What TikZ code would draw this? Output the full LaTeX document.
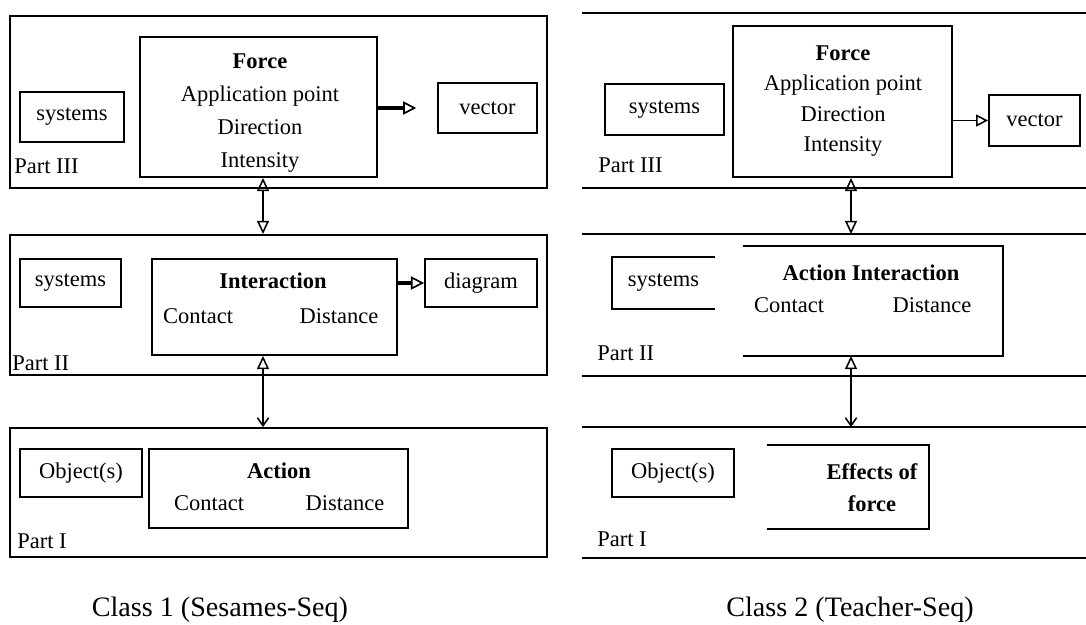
\documentclass[tikz,border=0pt]{standalone}
\usepackage{fontspec}
\setmainfont{Liberation Serif}
\usetikzlibrary{arrows.meta}

\begin{document}
\begin{tikzpicture}[x=0.025cm, y=-0.025cm,
    panel/.style={rectangle, inner sep=0pt, line width=1.3pt},
    itembox/.style={draw, rectangle, inner sep=0pt, line width=1.3pt},
    txt/.style={inner sep=0pt, font=\fontsize{16}{20}\selectfont},
    hd/.style={inner sep=0pt, font=\fontsize{16}{20}\selectfont\bfseries},
    partlbl/.style={txt, anchor=west},
    caption/.style={inner sep=0pt, font=\fontsize{20}{24}\selectfont},
    edge/.style={line width=1.3pt},
    thickarrow/.style={-{Triangle[open, length=0.33cm, width=0.33cm, line width=1.2pt]}, line width=2.8pt},
    thinarrow/.style={-{Triangle[open, length=0.3cm, width=0.3cm, line width=1.1pt]}, line width=1pt},
    bothopen/.style={{Triangle[open, length=0.33cm, width=0.3cm, line width=1.1pt]}-{Triangle[open, length=0.33cm, width=0.3cm, line width=1.1pt]}, line width=1pt},
    openbarb/.style={{Triangle[open, length=0.33cm, width=0.3cm, line width=1.1pt]}-{Straight Barb[length=0.2cm, width=0.28cm, line width=1.1pt]}, line width=1pt}
]
    \useasboundingbox (0,0) rectangle (1086,625);
    \coordinate (axisL) at (263,0);
    \coordinate (axisR) at (851,0);

    % Class 1, Part III
    \node[panel, draw, minimum width=13.425cm, minimum height=4.3cm] (part3L) at (278.5,102) {};
    \node[itembox, minimum width=2.6cm, minimum height=1.25cm, txt] (sys3L) at (72,117) {systems};
    \node[itembox, minimum width=5.925cm, minimum height=3.5cm] (forceL) at (258.5,107) {};
    \node[txt, align=center, font=\fontsize{16}{23.5}\selectfont] (forceLt) at (260,113) {\textbf{Force}\\Application point\\Direction\\Intensity};
    \node[itembox, minimum width=2.475cm, minimum height=1.25cm, txt] (vecL) at (487.5,108) {vector};
    \draw[thickarrow, shorten >=0.52cm] (forceL.east |- vecL) -- (vecL.west);
    \node[partlbl] (p3L) at (14,166) {Part III};

    % Class 1, Part II
    \node[panel, draw, minimum width=13.425cm, minimum height=3.5cm] (part2L) at (278.5,305) {};
    \node[itembox, minimum width=2.525cm, minimum height=1.2cm, txt] (sys2L) at (70.5,283) {systems};
    \node[itembox, minimum width=6.125cm, minimum height=2.4cm] (interL) at (274.5,307) {};
    \node[hd] (interLt) at (273,281) {Interaction};
    \node[txt] (interLc) at (198,316) {Contact};
    \node[txt] (interLd) at (339,316) {Distance};
    \node[itembox, minimum width=2.8cm, minimum height=1.2cm, txt] (diagL) at (481,283) {diagram};
    \draw[thickarrow] (interL.east |- diagL) -- (diagL.west);
    \node[partlbl] (p2L) at (12,363) {Part II};
    \draw[bothopen] (forceL.south -| axisL) -- (part2L.north -| axisL);

    % Class 1, Part I
    \node[panel, draw, minimum width=13.425cm, minimum height=3.225cm] (part1L) at (278.5,492.5) {};
    \node[itembox, minimum width=3.05cm, minimum height=1.2cm, txt] (objL) at (81,473) {Object(s)};
    \node[itembox, minimum width=6.475cm, minimum height=1.975cm] (actL) at (278.5,488.5) {};
    \node[hd] (actLt) at (279,471) {Action};
    \node[txt] (actLc) at (209,503) {Contact};
    \node[txt] (actLd) at (345,503) {Distance};
    \node[partlbl] (p1L) at (17,541) {Part I};
    \draw[openbarb] (interL.south -| axisL) -- (part1L.north -| axisL);
    \node[caption] (cap1) at (220,610) {Class 1 (Sesames-Seq)};

    % Class 2, Part III
    \node[panel, minimum width=12.575cm, minimum height=4.325cm] (part3R) at (834.5,100.5) {};
    \draw[edge] (part3R.north west) -- (part3R.north east);
    \draw[edge] (part3R.south west) -- (part3R.south east);
    \node[itembox, minimum width=2.975cm, minimum height=1.275cm, txt] (sys3R) at (664.5,109.5) {systems};
    \node[itembox, minimum width=5.475cm, minimum height=3.775cm] (forceR) at (842.5,101.5) {};
    \node[txt, align=center, font=\fontsize{16}{21.5}\selectfont] (forceRt) at (843,101) {\textbf{Force}\\Application point\\Direction\\Intensity};
    \node[itembox, minimum width=2.275cm, minimum height=1.275cm, txt] (vecR) at (1034.5,120.5) {vector};
    \draw[thinarrow] (forceR.east |- vecR) -- (vecR.west);
    \node[partlbl] (p3R) at (598,165) {Part III};

    % Class 2, Part II
    \node[panel, minimum width=12.575cm, minimum height=3.5cm] (part2R) at (834.5,305) {};
    \draw[edge] (part2R.north west) -- (part2R.north east);
    \draw[edge] (part2R.south west) -- (part2R.south east);
    \node[panel, minimum width=2.525cm, minimum height=1.25cm, txt] (sys2R) at (663.5,283) {systems};
    \draw[edge] (sys2R.north east) -- (sys2R.north west) -- (sys2R.south west) -- (sys2R.south east);
    \node[panel, minimum width=6.45cm, minimum height=2.7cm] (actintR) at (873,301) {};
    \draw[edge] (actintR.north west) -- (actintR.north east) -- (actintR.south east) -- (actintR.south west);
    \node[hd] (actintRt) at (871,273) {Action Interaction};
    \node[txt] (actintRc) at (789,305) {Contact};
    \node[txt] (actintRd) at (932,305) {Distance};
    \node[partlbl] (p2R) at (597,353) {Part II};
    \draw[bothopen] (forceR.south -| axisR) -- (part2R.north -| axisR);

    % Class 2, Part I
    \node[panel, minimum width=12.575cm, minimum height=3.225cm] (part1R) at (834.5,492.5) {};
    \draw[edge] (part1R.north west) -- (part1R.north east);
    \draw[edge] (part1R.south west) -- (part1R.south east);
    \node[itembox, minimum width=3.05cm, minimum height=1.2cm, txt] (objR) at (673,473) {Object(s)};
    \node[panel, minimum width=4cm, minimum height=2.05cm] (effR) at (848,487) {};
    \draw[edge] (effR.north west) -- (effR.north east) -- (effR.south east) -- (effR.south west);
    \node[hd, align=center, font=\fontsize{16}{22.5}\selectfont\bfseries] (effRt) at (872,488) {Effects of\\force};
    \node[partlbl] (p1R) at (597,539) {Part I};
    \draw[openbarb] (actintR.south -| axisR) -- (part1R.north -| axisR);
    \node[caption] (cap2) at (850,610) {Class 2 (Teacher-Seq)};
\end{tikzpicture}
\end{document}
